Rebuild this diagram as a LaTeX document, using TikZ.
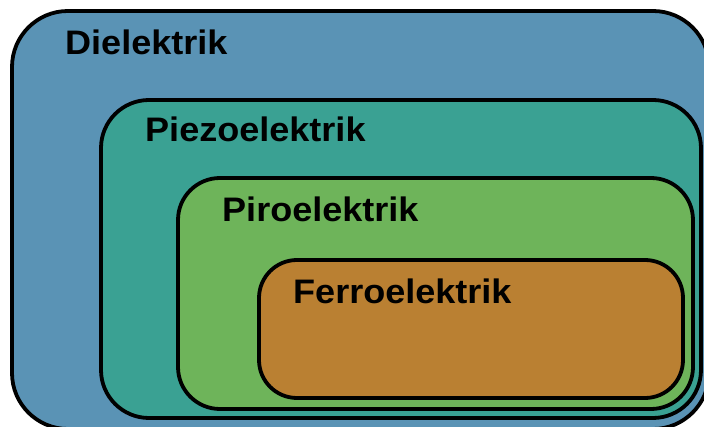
\documentclass[tikz,border=0pt]{standalone}
\usepackage{fontspec}
\setmainfont{Liberation Sans}
\definecolor{cdiel}{RGB}{90,147,181}
\definecolor{cpiezo}{RGB}{58,161,147}
\definecolor{cpiro}{RGB}{110,180,90}
\definecolor{cferro}{RGB}{186,128,50}
\tikzset{
  layer/.style={draw=black, line width=3.8pt},
  lbl/.style={anchor=base west, inner sep=0pt, font=\fontsize{34}{40}\selectfont\bfseries},
}
\begin{document}
\begin{tikzpicture}[x=1pt,y=-1pt]
\useasboundingbox (0,0) rectangle (704,427);
\fill[white] (0,0) rectangle (704,427);
\draw[layer, fill=cdiel, rounded corners=56pt] (12,11) rectangle (709,429);
\draw[layer, fill=cpiezo, rounded corners=48pt] (101,100) rectangle (701,418);
\draw[layer, fill=cpiro, rounded corners=42pt] (178,178) rectangle (693,409);
\draw[layer, fill=cferro, rounded corners=38pt] (259,260) rectangle (683,398);
\node[lbl] (diel) at (65,55) {\scalebox{1.06}[1]{Dielektrik}};
\node[lbl] (piezo) at (145,142) {\scalebox{1.06}[1]{Piezoelektrik}};
\node[lbl] (piro) at (222,222) {\scalebox{1.06}[1]{Piroelektrik}};
\node[lbl] (ferro) at (293,304) {\scalebox{1.06}[1]{Ferroelektrik}};
\end{tikzpicture}
\end{document}
